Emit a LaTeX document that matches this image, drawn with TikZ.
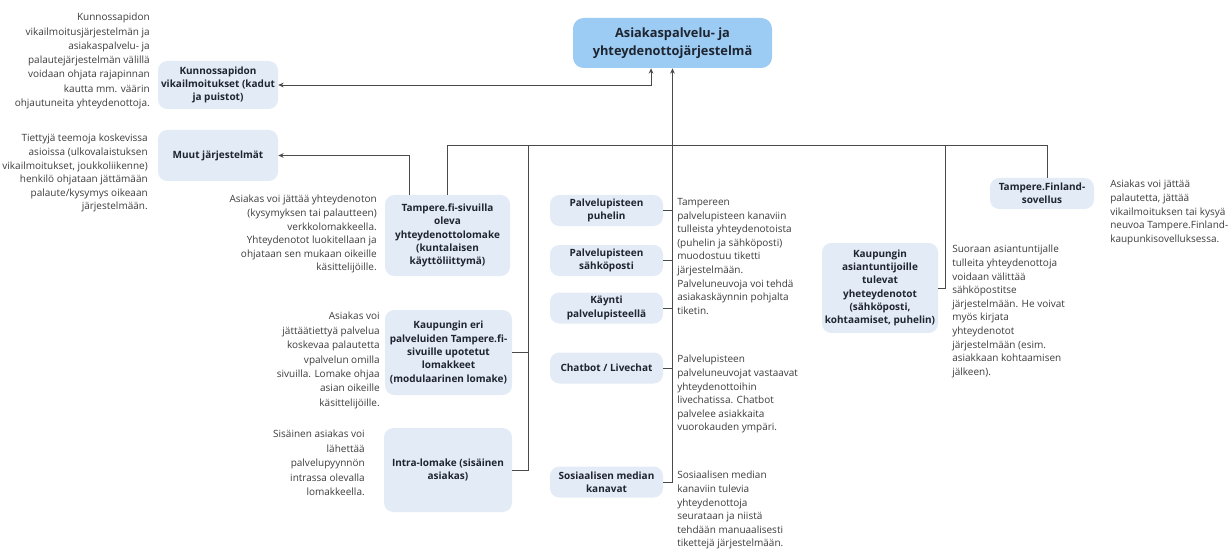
\documentclass[tikz,border=0pt]{standalone}
\usepackage{fontspec}
\setmainfont{Open Sans}
\usetikzlibrary{arrows.meta,calc}
\definecolor{boxfill}{HTML}{E3EBF6}
\definecolor{topfill}{HTML}{9CCBF3}
\definecolor{linec}{HTML}{4A4A4A}
\definecolor{txt}{HTML}{1E2530}
\definecolor{desc}{HTML}{3C3C3C}
\begin{document}
\begin{tikzpicture}[x=0.75pt,y=-0.75pt,
  box/.style={draw=none,fill=boxfill,rounded corners=7pt,align=center,font=\fontsize{7.5}{10}\selectfont\bfseries,text=txt,inner sep=0pt},
  descr/.style={font=\fontsize{7.5}{10.2}\selectfont,text=desc,inner sep=0pt},
  dl/.style={descr,anchor=north east,align=right},
  dr/.style={descr,anchor=north west,align=left},
  conn/.style={draw=linec,line width=0.7pt},
  arr/.style={conn,-{Stealth[length=4pt,width=3.5pt]}}]
\useasboundingbox (0,0) rectangle (1231,549);

% boxes
\node[box,fill=topfill,rounded corners=8pt,font=\fontsize{9.6}{13.5}\selectfont\bfseries,minimum width=149.25pt,minimum height=37.5pt] (top) at (672.5,43) {Asiakaspalvelu- ja\\yhteydenottojärjestelmä};
\node[box,minimum width=90pt,minimum height=36pt] (kun) at (218,85) {Kunnossapidon\\vikailmoitukset (kadut\\ja puistot)};
\node[box,minimum width=90pt,minimum height=38.25pt] (muut) at (218,155.5) {Muut järjestelmät};
\node[box,minimum width=93.75pt,minimum height=60.75pt] (tfi) at (447.5,235.5) {Tampere.fi-sivuilla\\oleva\\yhteydenottolomake\\(kuntalaisen\\käyttöliittymä)};
\node[box,minimum width=95.25pt,minimum height=63.75pt] (kae) at (448.5,352.5) {Kaupungin eri\\palveluiden Tampere.fi-\\sivuille upotetut\\lomakkeet\\(modulaarinen lomake)};
\node[box,minimum width=96pt,minimum height=63pt] (intra) at (448,470) {Intra-lomake (sisäinen\\asiakas)};
\node[box,minimum width=84.75pt,minimum height=23.25pt] (pp) at (606.5,210.5) {Palvelupisteen\\puhelin};
\node[box,minimum width=84.75pt,minimum height=23.25pt] (ps) at (606.5,260.5) {Palvelupisteen\\sähköposti};
\node[box,minimum width=84.75pt,minimum height=23.25pt] (kay) at (606.5,308) {Käynti\\palvelupisteellä};
\node[box,minimum width=84.75pt,minimum height=23.25pt] (chat) at (606.5,368) {Chatbot / Livechat};
\node[box,minimum width=84.75pt,minimum height=23.25pt] (some) at (606.5,482) {Sosiaalisen median\\kanavat};
\node[box,minimum width=87pt,minimum height=67.5pt] (kaa) at (880,288) {Kaupungin\\asiantuntijoille\\tulevat\\yheteydenotot\\(sähköposti,\\kohtaamiset, puhelin)};
\node[box,minimum width=78pt,minimum height=23.25pt] (tfn) at (1042,193.5) {Tampere.Finland-\\sovellus};

% descriptions
\node[dl,font=\fontsize{7.5}{10.7}\selectfont] (dkun) at (150,13) {Kunnossapidon\\vikailmoitusjärjestelmän ja\\asiakaspalvelu- ja\\palautejärjestelmän välillä\\voidaan ohjata rajapinnan\\kautta mm. väärin\\ohjautuneita yhteydenottoja.};
\node[dl] (dmuut) at (148,134) {Tiettyjä teemoja koskevissa\\asioissa (ulkovalaistuksen\\vikailmoitukset, joukkoliikenne)\\henkilö ohjataan jättämään\\palaute/kysymys oikeaan\\järjestelmään.};
\node[dl] (dtfi) at (377,195) {Asiakas voi jättää yhteydenoton\\(kysymyksen tai palautteen)\\verkkolomakkeella.\\Yhteydenotot luokitellaan ja\\ohjataan sen mukaan oikeille\\käsittelijöille.};
\node[dl,font=\fontsize{7.5}{10.8}\selectfont] (dkae) at (380,312) {Asiakas voi\\jättäätiettyä palvelua\\koskevaa palautetta\\vpalvelun omilla\\sivuilla. Lomake ohjaa\\asian oikeille\\käsittelijöille.};
\node[dl,font=\fontsize{7.5}{10.8}\selectfont] (dintra) at (365,430) {Sisäinen asiakas voi\\lähettää\\palvelupyynnön\\intrassa olevalla\\lomakkeella.};
\node[dr] (dpp) at (677,198) {Tampereen\\palvelupisteen kanaviin\\tulleista yhteydenotoista\\(puhelin ja sähköposti)\\muodostuu tiketti\\järjestelmään.\\Palveluneuvoja voi tehdä\\asiakaskäynnin pohjalta\\tiketin.};
\node[dr] (dchat) at (677,355) {Palvelupisteen\\palveluneuvojat vastaavat\\yhteydenottoihin\\livechatissa. Chatbot\\palvelee asiakkaita\\vuorokauden ympäri.};
\node[dr] (dsome) at (677,471) {Sosiaalisen median\\kanaviin tulevia\\yhteydenottoja\\seurataan ja niistä\\tehdään manuaalisesti\\tikettejä järjestelmään.};
\node[dr] (dkaa) at (952,245) {Suoraan asiantuntijalle\\tulleita yhteydenottoja\\voidaan välittää\\sähköpostitse\\järjestelmään. He voivat\\myös kirjata\\yhteydenotot\\järjestelmään (esim.\\asiakkaan kohtaamisen\\jälkeen).};
\node[dr] (dtfn) at (1110,180) {Asiakas voi jättää\\palautetta, jättää\\vikailmoituksen tai kysyä\\neuvoa Tampere.Finland-\\kaupunkisovelluksessa.};

% connectors
\coordinate (b528) at (528,145);
\coordinate (b945) at (945,145);
\draw[arr] (some.east) -| (top.south);
\foreach \n in {pp,ps,kay,chat} \draw[conn] (\n.east) -- (\n.east -| top.south);
\draw[conn] (tfi.north) -- (tfi.north |- b528) -| ([xshift=3.75pt]tfn.north);
\draw[conn] (intra.east) -| (b528);
\draw[conn] (kae.east) -- (kae.east -| b528);
\draw[conn] (kaa.east) -| (b945);
\draw[arr] ([xshift=-28.9pt]tfi.north) |- (muut.east);
\draw[conn,{Stealth[length=4pt,width=3.5pt]}-{Stealth[length=4pt,width=3.5pt]}] (kun.east) -| ([xshift=-16.1pt]top.south);
\end{tikzpicture}
\end{document}
